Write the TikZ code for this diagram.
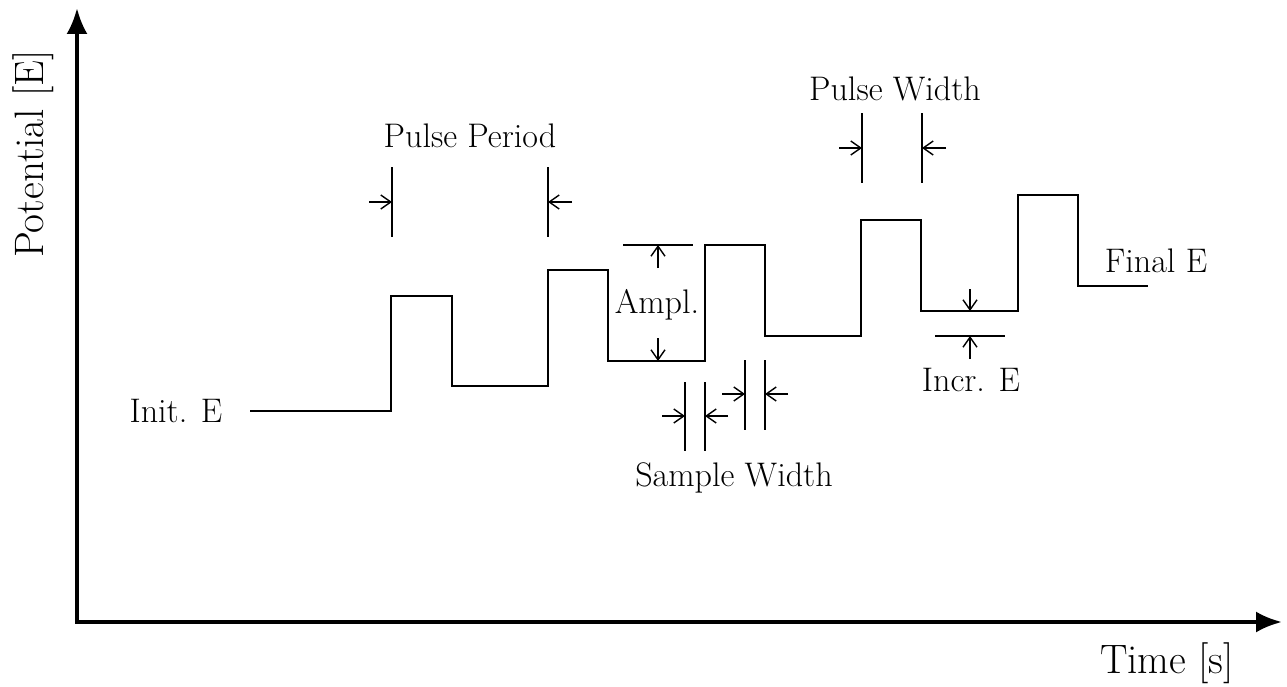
\documentclass[tikz,border=0pt]{standalone}
\usepackage{tikz}
\usetikzlibrary{arrows.meta}
\tikzset{
  axisline/.style={line width=2.2pt, line join=miter, {Latex[length=5.2mm,width=4.2mm]}-{Latex[length=5.2mm,width=4.2mm]}},
  waveline/.style={line width=1.1pt, line join=miter},
  dimline/.style={line width=0.8pt},
  dimarrow/.style={line width=0.8pt, -{Straight Barb[length=2mm,width=2.8mm]}},
  lbl/.style={font=\fontsize{19.4}{22}\selectfont, inner sep=0pt, anchor=base},
  axislabel/.style={font=\fontsize{23.4}{27}\selectfont, inner sep=0pt, anchor=base},
}
\begin{document}
\begin{tikzpicture}[x=0.02cm,y=-0.02cm]
  \useasboundingbox (0,0) rectangle (1287,686);
  % axes
  \coordinate (origin) at (77,622);
  \coordinate (ytip) at (77,8);
  \coordinate (xtip) at (1282,622);
  \draw[axisline] (ytip) -- (origin) -- (xtip);
  \node[axislabel, rotate=90] (ylbl) at (43,154) {Potential [E]};
  \node[axislabel] (xlbl) at (1167,673) {Time [s]};
  % staircase wave
  \draw[waveline] (250,411) -- (391,411) -- (391,296) -- (452,296) -- (452,386) -- (548,386)
    -- (548,270) -- (608,270) -- (608,361) -- (705,361) -- (705,245) -- (765,245)
    -- (765,336) -- (861,336) -- (861,220) -- (921,220) -- (921,311) -- (1018,311)
    -- (1018,195) -- (1078,195) -- (1078,286) -- (1148,286);
  \node[lbl] (init) at (176,422) {Init. E};
  \node[lbl] (final) at (1156,272) {Final E};
  % pulse period
  \node[lbl] (period) at (470,147) {Pulse Period};
  \draw[dimline] (392,167) -- (392,237);
  \draw[dimline] (548,167) -- (548,237);
  \draw[dimarrow] (369,202) -- (392,202);
  \draw[dimarrow] (572,202) -- (548,202);
  % amplitude
  \node[lbl] (ampl) at (657,313) {Ampl.};
  \draw[dimline] (623,245) -- (693,245);
  \draw[dimarrow] (658,268) -- (658,245);
  \draw[dimarrow] (658,338) -- (658,361);
  % sample width
  \node[lbl] (sample) at (734,486) {Sample Width};
  \draw[dimline] (685,382) -- (685,451);
  \draw[dimline] (705,382) -- (705,451);
  \draw[dimarrow] (662,416) -- (685,416);
  \draw[dimarrow] (728,416) -- (705,416);
  \draw[dimline] (745,360) -- (745,430);
  \draw[dimline] (765,360) -- (765,430);
  \draw[dimarrow] (722,394) -- (745,394);
  \draw[dimarrow] (788,394) -- (765,394);
  % pulse width
  \node[lbl] (width) at (895,101) {Pulse Width};
  \draw[dimline] (862,113) -- (862,183);
  \draw[dimline] (922,113) -- (922,183);
  \draw[dimarrow] (839,148) -- (862,148);
  \draw[dimarrow] (946,148) -- (922,148);
  % increment
  \node[lbl] (incr) at (971,391) {Incr. E};
  \draw[dimarrow] (970,289) -- (970,311);
  \draw[dimline] (935,336) -- (1005,336);
  \draw[dimarrow] (970,359) -- (970,336);
\end{tikzpicture}
\end{document}
